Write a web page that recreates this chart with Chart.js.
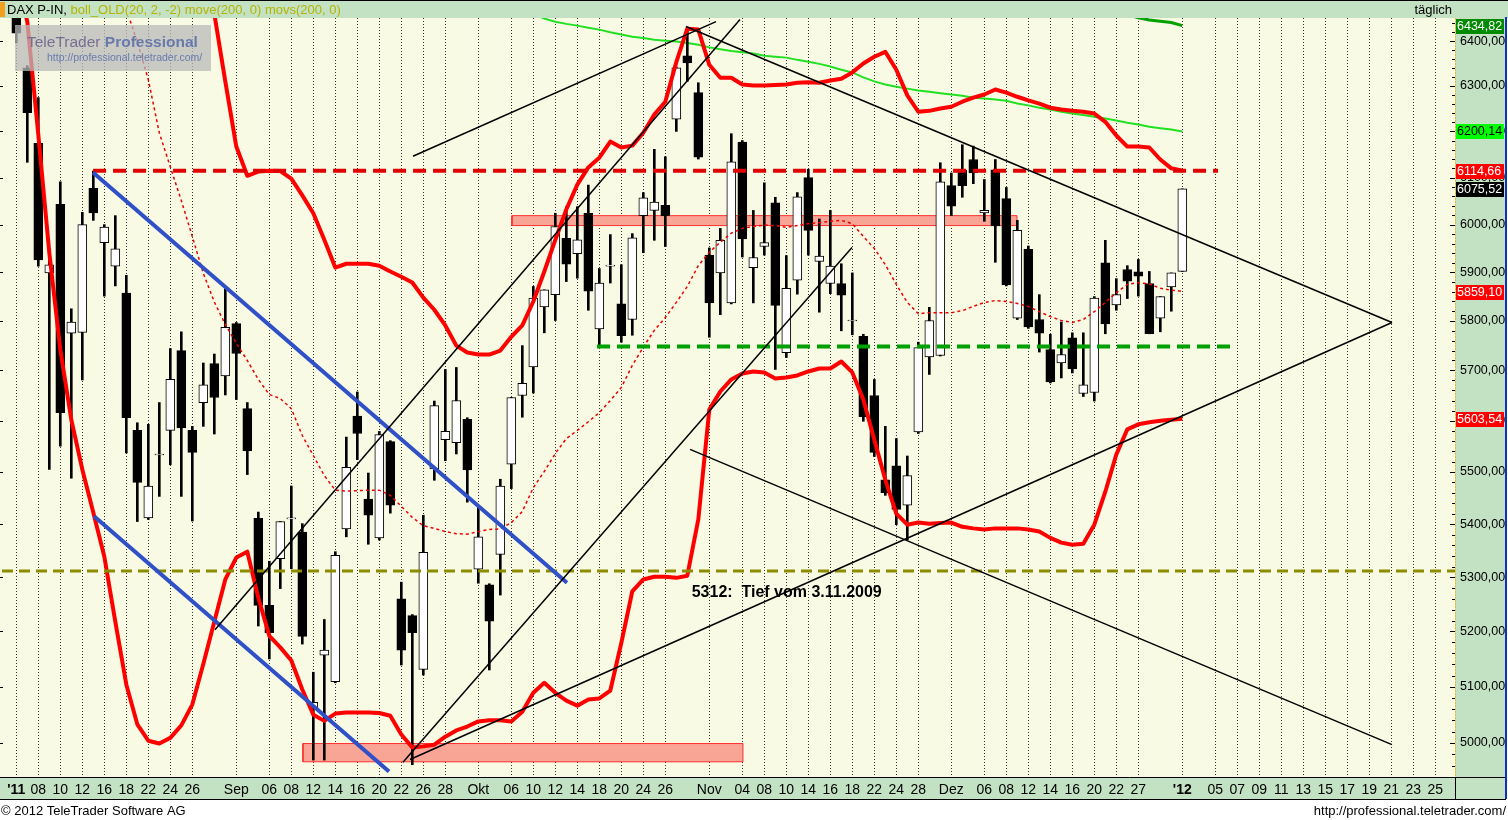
<!DOCTYPE html>
<html>
<head>
<meta charset="utf-8">
<script src="https://cdn.jsdelivr.net/npm/chart.js@4.4.1/dist/chart.umd.min.js"></script>
<style>
html, body { margin: 0; padding: 0; background: #fff; overflow: hidden; }
canvas { display: block; }
</style>
</head>
<body>
<canvas id="daxChart" width="1508" height="820"></canvas>
<script>
// DAX daily candles, 4 Aug 2011 .. 2 Jan 2012 (index = trading day)
const opens = [6460,6340,6174,5899,6043,5775,5777,6077,5962,5913,
  5857,5581,5412,5533,5581,5740,5581,5636,5714,5689,
  5795,5624,5411,5248,5335,5410,5385,5062,5157,5109,
  5391,5609,5448,5374,5559,5260,5229,5131,5506,5563,
  5557,5603,5315,5286,5343,5515,5650,5707,5829,5854,
  5971,5939,6024,5784,5913,5835,5803,6019,6030,6041,
  6227,6367,6285,5936,5899,5837,6177,5910,5954,6046,
  5736,5884,6100,5923,5877,5877,5800,5769,5650,5485,
  5512,5436,5578,5727,5730,6083,6116,6139,6025,6117,
  6055,5806,5948,5803,5742,5715,5766,5654,5656,5920,
  5833,5906,5901,5877,5806,5870,5902];
const highs = [6475,6345,6274,5925,6091,5825,6026,6114,6000,6019,
  5894,5596,5593,5636,5744,5778,5589,5715,5733,5866,
  5797,5636,5423,5330,5405,5473,5401,5126,5222,5348,
  5568,5657,5498,5579,5561,5291,5231,5417,5639,5702,
  5706,5606,5434,5288,5486,5646,5750,5871,5864,6024,
  6038,6038,6084,5908,5979,5916,5981,6068,6161,6145,
  6342,6431,6307,5951,5992,6195,6180,6030,6089,6058,
  5935,6068,6118,6012,6030,5918,5899,5773,5682,5589,
  5565,5531,5757,5828,6132,6110,6171,6168,6096,6139,
  6079,6009,5955,5854,5773,5798,5776,5776,5850,5967,
  5887,5914,5927,5902,5850,5899,6076];
const lows = [6396,6133,5913,5505,5550,5488,5681,6009,5851,5872,
  5537,5405,5409,5453,5514,5453,5406,5589,5574,5651,
  5642,5495,5210,5150,5279,5316,5177,4970,4970,5107,
  5376,5524,5362,5370,5421,5139,4962,5121,5484,5522,
  5535,5442,5289,5130,5267,5468,5607,5655,5776,5801,
  5881,5888,5822,5752,5878,5757,5771,5941,5967,5954,
  6200,6310,6140,5767,5813,5835,5932,5837,5936,5702,
  5726,5855,5936,5818,5856,5780,5772,5599,5530,5455,
  5399,5370,5575,5692,5729,6019,6058,6087,6007,5921,
  5872,5803,5785,5737,5675,5685,5695,5648,5639,5774,
  5822,5846,5851,5774,5778,5820,5902];
const closes = [6418,6241,5926,5916,5616,5798,6000,6025,5995,5949,
  5606,5480,5473,5535,5682,5586,5538,5671,5646,5787,
  5734,5541,5248,5198,5405,5412,5191,5072,5166,5341,
  5509,5575,5417,5573,5436,5166,5198,5347,5630,5579,
  5640,5504,5376,5219,5473,5646,5674,5847,5864,5996,
  5917,5968,5861,5878,5915,5770,5972,6057,6048,6019,
  6340,6351,6144,5837,5967,6134,5970,5931,5962,5832,
  5867,6059,5988,5934,5913,5853,5802,5608,5538,5460,
  5428,5493,5746,5801,6091,6039,6083,6110,6030,5997,
  5874,5988,5788,5775,5677,5732,5703,5671,5847,5794,
  5854,5882,5892,5774,5850,5899,6076];

// boll_OLD(20, 2, -2)
const bollUpper = [null,null,null,null,null,null,null,null,null,null,
  null,null,null,null,null,null,null,6590,6462,6310,
  6167,6104,6113,6115,6114,6098,6062,6024,5968,5910,
  5918,5918,5918,5914,5902,5891,5879,5848,5823,5791,
  5750,5736,5732,5732,5740,5768,5791,5840,5902,5968,
  6032,6085,6122,6143,6178,6165,6169,6197,6237,6265,
  6353,6428,6426,6347,6318,6318,6303,6301,6301,6302,
  6303,6307,6308,6307,6312,6316,6330,6350,6365,6376,
  6336,6279,6243,6245,6250,6254,6265,6274,6281,6292,
  6285,6276,6268,6261,6252,6248,6245,6243,6239,6221,
  6191,6167,6167,6165,6139,6120,6115];
const bollLower = [6550,6444,6193,5941,5742,5602,5505,5422,5339,5218,
  5104,5033,5004,4999,5009,5031,5068,5141,5218,5296,
  5337,5348,5262,5192,5171,5147,5095,5050,5039,5052,
  5054,5054,5054,5053,5048,5015,4992,4994,4997,5011,
  5022,5029,5038,5040,5040,5038,5055,5089,5107,5089,
  5075,5066,5077,5079,5093,5179,5274,5296,5301,5301,
  5299,5303,5409,5622,5658,5682,5694,5698,5696,5684,
  5686,5690,5698,5704,5704,5718,5696,5642,5563,5485,
  5420,5399,5403,5401,5402,5403,5395,5392,5390,5392,
  5392,5392,5390,5386,5374,5365,5361,5363,5399,5462,
  5534,5583,5593,5597,5600,5602,5604];
const bollMid = [null,null,null,null,null,null,null,null,null,6650,
  6471,6399,6314,6197,6123,6051,5975,5898,5839,5793,
  5755,5720,5682,5652,5644,5624,5571,5532,5493,5465,
  5463,5464,5465,5465,5455,5434,5413,5397,5392,5386,
  5382,5381,5386,5390,5391,5403,5424,5470,5501,5536,
  5565,5581,5598,5616,5640,5666,5710,5747,5781,5807,
  5838,5871,5914,5942,5963,5982,5992,5996,5999,5998,
  5994,5998,6002,6004,6007,6009,6002,5975,5950,5916,
  5875,5838,5815,5817,5817,5817,5821,5830,5838,5842,
  5840,5836,5830,5819,5809,5801,5797,5803,5819,5838,
  5858,5875,5879,5876,5867,5863,5861];

// move(200, 0) and movs(200, 0)
const move200 = [null,null,null,null,null,null,null,null,null,null,
  null,null,null,null,null,null,null,null,null,null,
  null,null,null,null,null,null,null,null,null,null,
  null,null,null,null,null,null,null,null,null,null,
  null,null,null,null,null,null,null,6462,6451,6444,
  6439,6435,6430,6426,6420,6415,6410,6407,6403,6401,
  6399,6396,6392,6386,6382,6378,6375,6372,6367,6365,
  6363,6358,6354,6349,6343,6336,6330,6319,6310,6303,
  6298,6294,6290,6287,6284,6281,6278,6274,6272,6270,
  6267,6261,6257,6252,6248,6243,6239,6236,6232,6228,
  6224,6219,6215,6210,6207,6204,6200];
const movs200 = [null,null,null,null,null,null,null,null,null,null,
  null,null,null,null,null,null,null,null,null,null,
  null,null,null,null,null,null,null,null,null,null,
  null,null,null,null,null,null,null,null,null,null,
  null,null,null,null,null,null,null,null,null,null,
  null,null,null,null,null,null,null,null,null,null,
  null,null,null,null,null,null,null,null,null,null,
  null,null,null,null,null,null,null,null,null,null,
  null,null,null,null,null,null,null,null,null,null,
  null,null,null,null,null,null,null,null,null,null,
  null,6460,6453,6448,6445,6442,6435];

// x axis: day index of each labelled tick and its text
const tickIdx = [0,2,4,6,8,10,12,14,16,20,23,25,27,29,31,33,35,37,39,42,45,47,49,51,53,55,57,59,
  63,66,68,70,72,74,76,78,80,82,85,88,90,92,94,96,98,100,102,106,109,111,113,115,117,119,121,123,125,127,129];
const tickText = ["'11","08","10","12","16","18","22","24","26","Sep","06","08","12","14","16","20","22","26","28",
  "Okt","06","10","12","14","18","20","24","26","Nov","04","08","10","14","16","18","22","24","28",
  "Dez","06","08","12","14","16","20","22","27","'12","05","07","09","11","13","15","17","19","21","23","25"];
const yTicks = [5000,5100,5200,5300,5400,5500,5600,5700,5800,5900,6000,6100,6200,6300,6400];

// drawn tools: [dayFrom, priceFrom, dayTo, priceTo]
const blackLines = [
  [36.06, 6146, 63.61, 6444],
  [18.06, 5203, 65.79, 6449],
  [35.15, 4966, 75.97, 5952],
  [60.88, 6433, 125.06, 5797],
  [35.79, 4971, 125.06, 5797],
  [61.25, 5544, 125.06, 4997]
];
const blueLines = [
  [6.98, 6111, 50.06, 5290],
  [7.07, 5415, 33.88, 4950]
];
// horizontal levels: [dayFrom, dayTo, price]
const redLevel = [6.98, 109.25, 6114.66];
const greenLevel = [52.79, 110.8, 5748];
const oliveLevel = [-1.3, 130.8, 5312];
// zones: [dayFrom, dayTo, priceLow, priceHigh]
const zones = [[45.06, 90.97, 5998, 6019], [26.06, 66.06, 4967, 4999]];
const note = [61.4, 5272, '5312:  Tief vom 3.11.2009'];

// last values shown on the price axis
const lastValues = [6434.82, 6200.14, 6114.66, 6075.52, 5859.10, 5603.54];
const lastColors = [['#008a00', '#fff'], ['#00ff00', '#000'], ['#ff0000', '#fff'], ['#000', '#fff'], ['#ff0000', '#fff'], ['#ff0000', '#fff']];

const FONT = '"Liberation Sans", Arial, sans-serif';
const CREAM = '#f8fae3';
const BAND = '#c3e1c3';
const days = opens.map((_, i) => i);

const seriesLine = (arr) => days.map(i => ({ x: i, y: arr[i] }));
const segLine = (l) => [{ x: l[0], y: l[1] }, { x: l[2], y: l[3] }];
const levelLine = (l) => [{ x: l[0], y: l[2] }, { x: l[1], y: l[2] }];
const zoneShape = (z) => [{ x: z[0], y: z[2] }, { x: z[1], y: z[2] }, { x: z[1], y: z[3] }, { x: z[0], y: z[3] }, { x: z[0], y: z[2] }];

const lineDefaults = { type: 'line', pointRadius: 0, tension: 0, fill: false };

const datasets = [];
zones.forEach(z => datasets.push({ ...lineDefaults, data: zoneShape(z), borderColor: '#ff3030', borderWidth: 1, backgroundColor: '#f9a596', fill: 'shape', order: 8 }));
datasets.push({ ...lineDefaults, data: seriesLine(move200), borderColor: '#22e022', borderWidth: 2, order: 9 });
datasets.push({ ...lineDefaults, data: seriesLine(movs200), borderColor: '#00a000', borderWidth: 3, order: 9 });
datasets.push({
  type: 'bar', data: days.map(i => ({ x: i, y: [lows[i], highs[i]] })),
  backgroundColor: '#000', barThickness: 2, grouped: false, order: 7
});
datasets.push({
  type: 'bar', data: days.map(i => ({ x: i, y: [opens[i], closes[i]] })),
  backgroundColor: days.map(i => closes[i] >= opens[i] ? '#ffffff' : '#000000'),
  borderColor: '#000', borderWidth: 1, borderSkipped: false, barThickness: 9, grouped: false, order: 6
});
datasets.push({ ...lineDefaults, data: seriesLine(bollMid), borderColor: '#ee0000', borderWidth: 1.5, borderDash: [3, 3], order: 5 });
datasets.push({ ...lineDefaults, data: seriesLine(bollUpper), borderColor: '#ff0000', borderWidth: 4, borderJoinStyle: 'round', order: 5 });
datasets.push({ ...lineDefaults, data: seriesLine(bollLower), borderColor: '#ff0000', borderWidth: 4, borderJoinStyle: 'round', order: 5 });
datasets.push({ ...lineDefaults, data: levelLine(oliveLevel), borderColor: '#8c8c00', borderWidth: 3, borderDash: [11, 6], order: 4 });
datasets.push({ ...lineDefaults, data: levelLine(greenLevel), borderColor: '#00a000', borderWidth: 4, borderDash: [13, 7], order: 4 });
datasets.push({ ...lineDefaults, data: levelLine(redLevel), borderColor: '#e00000', borderWidth: 4, borderDash: [13, 7], order: 4 });
blueLines.forEach(l => datasets.push({ ...lineDefaults, data: segLine(l), borderColor: '#3050c8', borderWidth: 4, order: 3 }));
blackLines.forEach(l => datasets.push({ ...lineDefaults, data: segLine(l), borderColor: '#000', borderWidth: 1.5, order: 2 }));

const chrome = {
  id: 'chrome',
  beforeDraw(chart) {
    const { ctx, chartArea: a } = chart;
    ctx.save();
    ctx.fillStyle = '#fff';
    ctx.fillRect(0, 0, 1508, 820);
    ctx.fillStyle = BAND;
    ctx.fillRect(0, 0, 1508, a.top);
    ctx.fillRect(0, a.bottom, 1506, 22);
    ctx.fillRect(a.right, a.top, 1506 - a.right, a.bottom - a.top);
    ctx.fillStyle = CREAM;
    ctx.fillRect(0, a.top, a.right, a.bottom - a.top);
    ctx.restore();
  },
  afterDatasetsDraw(chart) {
    const { ctx } = chart;
    const xs = chart.scales.x, ys = chart.scales.y;
    ctx.save();
    ctx.font = 'bold 16px ' + FONT;
    ctx.fillStyle = '#000';
    ctx.textBaseline = 'middle';
    ctx.fillText(note[2], xs.getPixelForValue(note[0]), ys.getPixelForValue(note[1]));
    ctx.restore();
  },
  afterDraw(chart) {
    const { ctx, chartArea: a } = chart;
    const ys = chart.scales.y;
    ctx.save();
    // frame lines
    ctx.strokeStyle = '#000';
    ctx.lineWidth = 1;
    ctx.beginPath();
    ctx.moveTo(0, 0.5); ctx.lineTo(1508, 0.5);
    ctx.moveTo(0, a.bottom + 0.5); ctx.lineTo(1506, a.bottom + 0.5);
    ctx.moveTo(0, a.bottom + 22.5); ctx.lineTo(1506, a.bottom + 22.5);
    ctx.moveTo(a.right + 0.5, a.bottom); ctx.lineTo(a.right + 0.5, a.bottom + 22);
    ctx.stroke();
    ctx.strokeStyle = '#1030c0';
    ctx.lineWidth = 2;
    ctx.beginPath();
    ctx.moveTo(1506, a.top - 1); ctx.lineTo(1506, a.bottom + 22);
    ctx.stroke();
    ctx.strokeStyle = '#e8b830';
    ctx.lineWidth = 1;
    ctx.setLineDash([2, 1]);
    ctx.beginPath();
    ctx.moveTo(a.right + 0.5, a.top); ctx.lineTo(a.right + 0.5, a.bottom);
    ctx.stroke();
    ctx.setLineDash([]);
    // minor ticks on the price axis and left edge
    ctx.strokeStyle = '#000';
    ctx.beginPath();
    for (let v = 4960; v <= 6440; v += 20) {
      const y = Math.round(ys.getPixelForValue(v)) + 0.5;
      const len = v % 100 === 0 ? 5 : 3;
      ctx.moveTo(a.right - len, y); ctx.lineTo(a.right, y);
      if (v % 50 === 0) { ctx.moveTo(0, y); ctx.lineTo(3, y); }
    }
    ctx.stroke();
    // header
    ctx.fillStyle = '#f0a020';
    ctx.fillRect(0, 2, 5, 15);
    ctx.font = '13px ' + FONT;
    ctx.textBaseline = 'middle';
    ctx.fillStyle = '#000';
    ctx.fillText('DAX P-IN,', 7, 10);
    const w = ctx.measureText('DAX P-IN, ').width;
    ctx.fillStyle = '#b4b400';
    ctx.fillText('boll_OLD(20, 2, -2) move(200, 0) movs(200, 0)', 7 + w, 10);
    ctx.fillStyle = '#000';
    ctx.textAlign = 'right';
    ctx.fillText('täglich', 1452, 10);
    // footer
    ctx.fillText('http://professional.teletrader.com/', 1506, 811);
    ctx.textAlign = 'left';
    ctx.fillText('© 2012 TeleTrader Software AG', 1, 811);
    // last value boxes
    ctx.font = '12.5px ' + FONT;
    lastValues.forEach((v, i) => {
      const y = Math.round(ys.getPixelForValue(v));
      ctx.fillStyle = lastColors[i][0];
      ctx.fillRect(a.right + 1, y - 7, 48, 15);
      ctx.fillStyle = lastColors[i][1];
      ctx.fillText(v.toFixed(2).replace('.', ','), a.right + 2, y + 1);
    });
    // watermark
    ctx.fillStyle = 'rgba(185,185,185,0.75)';
    ctx.fillRect(15, 25, 196, 46);
    ctx.font = '15.5px ' + FONT;
    ctx.textBaseline = 'alphabetic';
    ctx.fillStyle = 'rgba(112,100,140,0.9)';
    ctx.fillText('TeleTrader', 27, 47);
    const tw = ctx.measureText('TeleTrader ').width;
    ctx.font = 'bold 15.5px ' + FONT;
    ctx.fillStyle = 'rgba(95,112,170,0.9)';
    ctx.fillText('Professional', 27 + tw, 47);
    ctx.font = '10.5px ' + FONT;
    ctx.fillStyle = 'rgba(100,118,175,0.95)';
    ctx.fillText('http://professional.teletrader.com/', 47, 61);
    ctx.restore();
  }
};

new Chart(document.getElementById('daxChart'), {
  type: 'bar',
  data: { datasets },
  plugins: [chrome],
  options: {
    responsive: false,
    animation: false,
    devicePixelRatio: 1,
    layout: { padding: { top: 18, left: 2, right: 0, bottom: 0 } },
    plugins: { legend: { display: false }, tooltip: { enabled: false } },
    scales: {
      x: {
        type: 'linear', min: -1.3, max: 130.79, offset: false,
        afterBuildTicks: s => { s.ticks = tickIdx.map(v => ({ value: v })); },
        afterFit: s => { s.height = 43; },
        ticks: {
          autoSkip: false, maxRotation: 0, padding: 5, color: '#000',
          font: c => ({ family: FONT, size: 14, weight: (c.tick && String(c.tick.label).startsWith("'")) ? 'bold' : 'normal' }),
          callback: v => { const i = tickIdx.indexOf(v); return i >= 0 ? tickText[i] : ''; }
        },
        grid: { color: '#333', lineWidth: 1, drawTicks: false, offset: false },
        border: { display: false, dash: [1, 2] }
      },
      y: {
        type: 'logarithmic', position: 'right', min: 4940.5, max: 6452.3,
        afterBuildTicks: s => { s.ticks = yTicks.map(v => ({ value: v })); },
        afterFit: s => { s.width = 53; },
        ticks: {
          padding: 5, color: '#000', font: { family: FONT, size: 12.5 },
          callback: v => Number(v).toFixed(2).replace('.', ',')
        },
        grid: { display: false, drawTicks: false },
        border: { display: false }
      }
    }
  }
});
</script>
</body>
</html>
